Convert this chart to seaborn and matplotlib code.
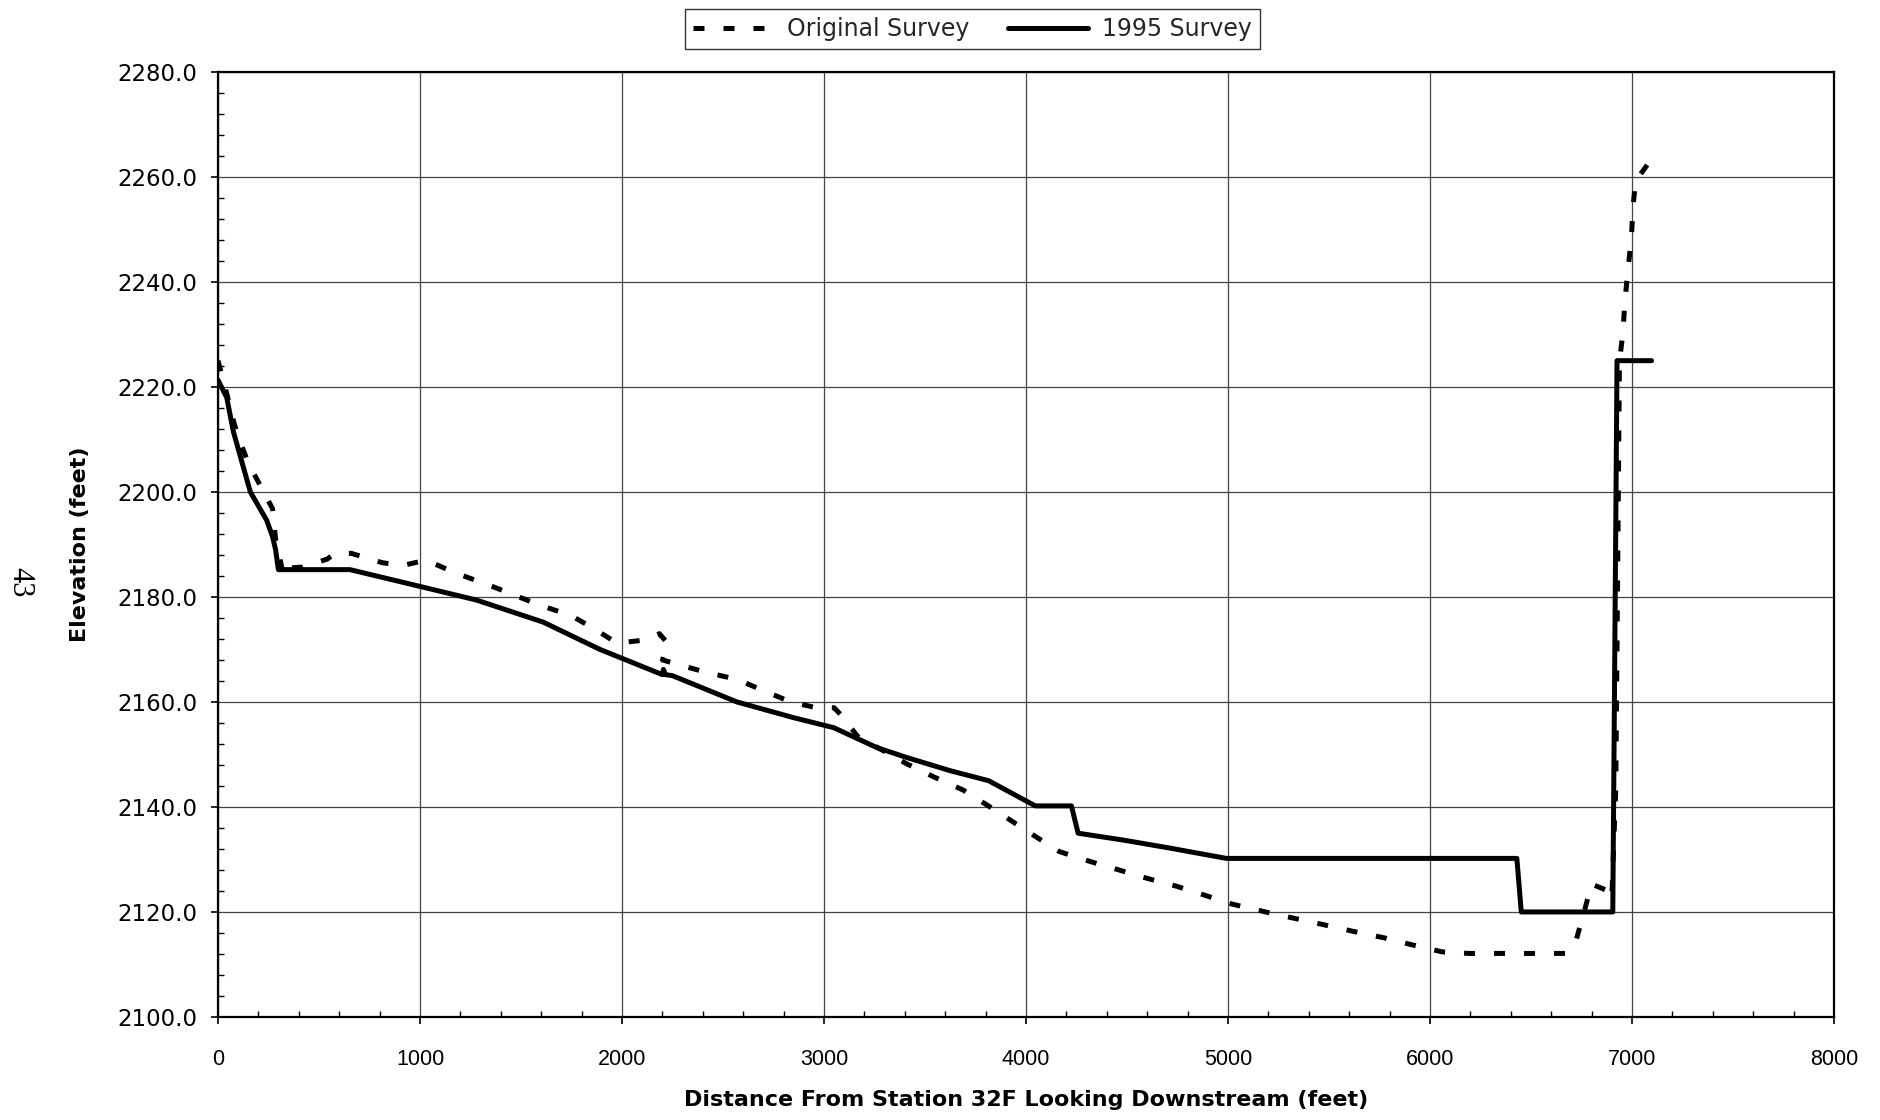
import matplotlib
matplotlib.use("Agg")
import matplotlib.pyplot as plt
from matplotlib.ticker import MultipleLocator, FixedLocator, FormatStrFormatter
import pandas as pd
import seaborn as sns

# Channel profile surveys: distance downstream (ft) vs. elevation (ft)
original_x = [0, 45, 80, 115, 150, 270, 285, 305, 325, 345, 420, 540, 580, 660,
              815, 915, 1030, 1180, 1345, 1470, 1595, 1745, 1860, 1975, 2115,
              2185, 2230, 2200, 2290, 2420, 2570, 2685, 2835, 2950, 3050, 3090,
              3165, 3280, 3410, 3545, 3690, 3810, 3910, 4050, 4165, 4310, 4460,
              4600, 4745, 4900, 5020, 5175, 5315, 5470, 5620, 5770, 5915, 6060,
              6190, 6670, 6725, 6770, 6800, 6870, 6900, 6920, 6938, 6955, 6965,
              6980, 6997, 7005, 7018, 7100]
original_y = [2225.0, 2218.5, 2213.0, 2209.0, 2205.5, 2196.8, 2191.0, 2187.5,
              2184.0, 2185.5, 2185.7, 2187.2, 2188.3, 2188.3, 2186.5, 2186.0,
              2187.0, 2184.5, 2182.2, 2180.3, 2178.4, 2176.5, 2174.0, 2171.2,
              2171.8, 2173.0, 2171.0, 2168.0, 2167.0, 2165.6, 2164.3, 2162.4,
              2160.0, 2159.0, 2158.9, 2157.3, 2153.5, 2151.0, 2148.2, 2145.7,
              2143.2, 2140.3, 2137.8, 2134.3, 2131.5, 2129.7, 2128.0, 2126.4,
              2124.9, 2123.0, 2121.5, 2120.1, 2118.9, 2117.6, 2116.3, 2115.1,
              2113.7, 2112.4, 2112.1, 2112.1, 2114.8, 2121.0, 2125.3, 2124.2,
              2122.5, 2143.8, 2224.8, 2230.3, 2236.3, 2242.3, 2248.3, 2254.3,
              2259.2, 2263.6]

survey1995_x = [0, 43, 76, 160, 241, 270, 285, 299, 653, 1000, 1280, 1610, 1891,
                2200, 2205, 2215, 2250, 2569, 2850, 3048, 3262, 3411, 3625, 3815,
                4046, 4225, 4258, 4480, 4707, 4992, 6430, 6452, 6905, 6926, 7097]
survey1995_y = [2221.3, 2218.0, 2211.5, 2200.0, 2194.6, 2191.5, 2189.0, 2185.2,
                2185.2, 2182.0, 2179.4, 2175.2, 2170.0, 2165.2, 2166.2, 2165.2,
                2165.0, 2160.0, 2157.0, 2155.1, 2151.3, 2149.4, 2146.9, 2145.0,
                2140.2, 2140.2, 2135.0, 2133.7, 2132.2, 2130.2, 2130.2, 2120.0,
                2120.0, 2225.0, 2225.0]

series_names = ["Original Survey", "1995 Survey"]
x_ticks = [0, 1000, 2000, 3000, 4000, 5000, 6000, 7000, 8000]
y_ticks = [2100.0, 2120.0, 2140.0, 2160.0, 2180.0, 2200.0, 2220.0, 2240.0, 2260.0, 2280.0]

df = pd.concat([
    pd.DataFrame({"distance": original_x, "elevation": original_y, "survey": series_names[0]}),
    pd.DataFrame({"distance": survey1995_x, "elevation": survey1995_y, "survey": series_names[1]}),
], ignore_index=True)

sns.set_theme(style="white")
plt.rcParams['font.family'] = ['DejaVu Sans']

fig = plt.figure(figsize=(18.81, 11.2), dpi=100)
ax = fig.add_axes([0.1159, 0.0920, 0.8591, 0.8438])

sns.lineplot(
    data=df, x="distance", y="elevation",
    hue="survey", style="survey", hue_order=series_names, style_order=series_names,
    palette={series_names[0]: "black", series_names[1]: "black"},
    dashes={series_names[0]: (2.2, 3.8), series_names[1]: ""},
    estimator=None, sort=False, linewidth=3.6, legend=False, ax=ax,
)

ax.set_xlim(x_ticks[0], x_ticks[-1])
ax.set_ylim(y_ticks[0], y_ticks[-1])
ax.xaxis.set_major_locator(FixedLocator(x_ticks))
ax.yaxis.set_major_locator(FixedLocator(y_ticks))
ax.xaxis.set_minor_locator(MultipleLocator(200))
ax.yaxis.set_minor_locator(MultipleLocator(4))
ax.yaxis.set_major_formatter(FormatStrFormatter("%.1f"))
ax.xaxis.set_major_formatter(FormatStrFormatter("%d"))

ax.grid(True, which="major", color="#444444", linewidth=0.9)
ax.set_axisbelow(True)
for s in ax.spines.values():
    s.set_color("black")
    s.set_linewidth(1.6)

ax.tick_params(which="major", direction="out", length=5, width=1.2, color="black",
               left=True, bottom=True)
ax.tick_params(which="minor", direction="in", length=4, width=1.0, color="black",
               left=True, bottom=True)
ax.tick_params(axis="y", which="major", pad=10, labelsize=16.5, labelcolor="black")
ax.tick_params(axis="x", which="major", pad=18, labelsize=15.5, labelcolor="black")
for lab in ax.get_xticklabels():
    lab.set_family("Liberation Sans")

ax.set_xlabel("Distance From Station 32F Looking Downstream (feet)",
              fontsize=16, fontweight="bold", color="black")
ax.set_ylabel("Elevation (feet)", fontsize=16, fontweight="bold", color="black")
ax.xaxis.set_label_coords(0.5, -0.077)
ax.yaxis.set_label_coords(-0.079, 0.5)

handles = ax.get_lines()[:2]
leg = fig.legend(handles, series_names, loc="center", bbox_to_anchor=(0.517, 0.974),
                 ncol=2, frameon=True, fancybox=False, edgecolor="black",
                 fontsize=17, handlelength=3.4, handletextpad=0.6,
                 columnspacing=1.6, borderpad=0.35)
leg.get_frame().set_linewidth(1.0)

fig.text(0.0106, 1 - 582 / 1120, "43", rotation=-90, fontsize=22,
         family="Liberation Serif", ha="center", va="center", color="black")

fig.savefig("out.png", dpi=100)
